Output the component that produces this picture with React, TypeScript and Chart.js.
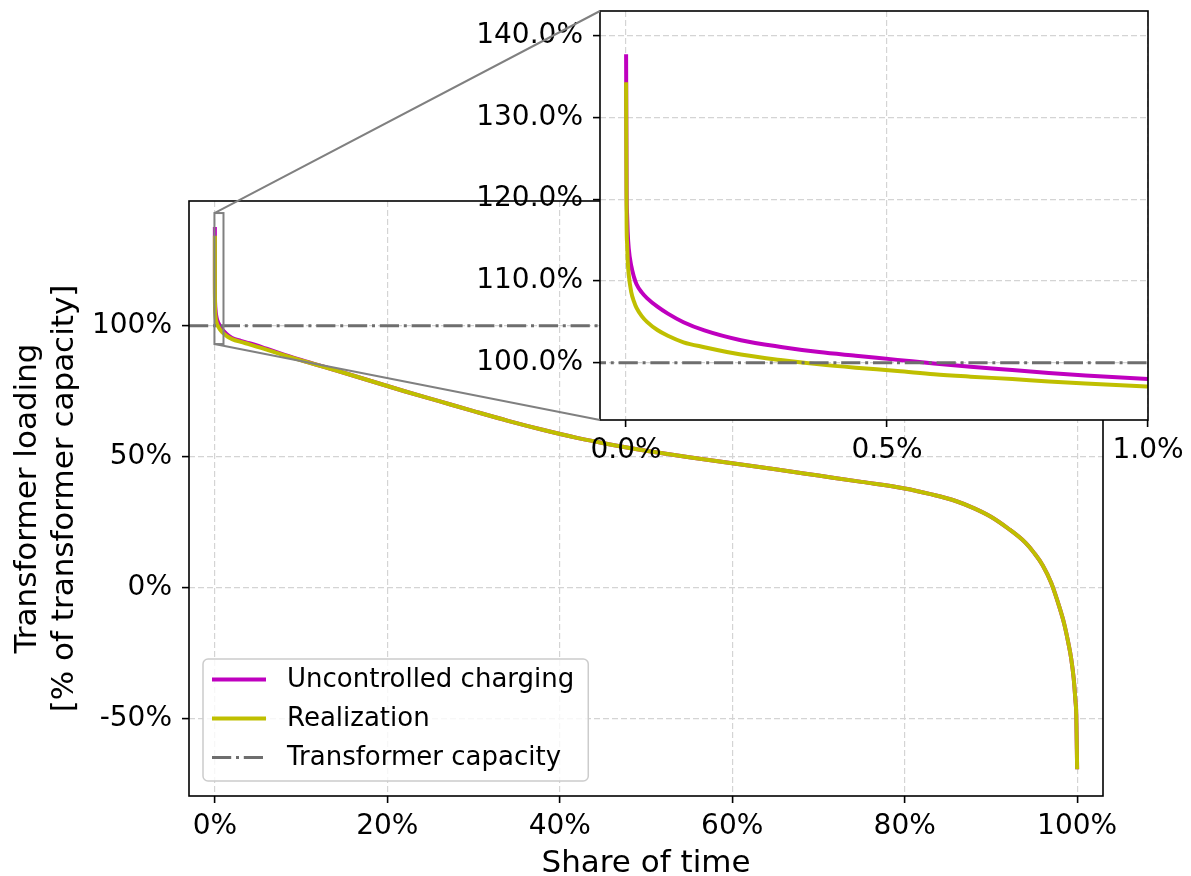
import React, { useEffect, useRef } from 'react';
import { Chart, registerables } from 'chart.js';

Chart.register(...registerables);

// ---------- data ----------
const shareOfTime = [
  0, 0.001, 0.002, 0.003, 0.005, 0.01, 0.015, 0.02, 0.03, 0.04,
  0.06, 0.08, 0.11, 0.15, 0.22, 0.3, 0.37, 0.44, 0.52, 0.59,
  0.66, 0.74, 0.81, 0.88, 1.0, 1.5, 2, 3, 4, 6,
  8, 10, 14, 18, 22, 26, 30, 34, 38, 42,
  46, 50, 55, 60, 65, 70, 75, 80, 83, 86,
  88, 90, 92, 94, 95, 96, 97, 98, 98.5, 99,
  99.3, 99.6, 99.8, 99.9, 100,
];
const uncontrolledCharging = [
  137.7, 121.0, 118.0, 116.0, 114.0, 111.8, 110.5, 109.6, 108.6, 107.9,
  106.85, 106.0, 104.95, 103.95, 102.75, 101.9, 101.3, 100.85, 100.35, 99.9,
  99.5, 99.1, 98.75, 98.45, 98.0, 96.4, 95.3, 94.2, 93.3, 91.2,
  89.0, 86.9, 83.0, 79.0, 75.0, 71.2, 67.4, 63.7, 60.3, 57.2,
  54.6, 52.3, 49.8, 47.5, 45.2, 42.8, 40.4, 37.9, 35.7, 33.0,
  30.4, 27.1, 22.6, 17.2, 13.3, 8.6, 1.8, -8.0, -13.8, -21.4,
  -26.8, -34.6, -43.0, -48.5, -69.3,
];
const realization = [
  134.3, 117.0, 114.5, 112.6, 110.8, 108.6, 107.5, 106.7, 105.7, 105.0,
  104.0, 103.3, 102.5, 101.9, 101.0, 100.3, 99.8, 99.4, 99.0, 98.6,
  98.3, 98.0, 97.7, 97.45, 97.1, 95.8, 94.9, 93.8, 92.9, 90.9,
  88.8, 86.8, 83.0, 79.0, 75.0, 71.2, 67.4, 63.7, 60.3, 57.2,
  54.6, 52.3, 49.8, 47.5, 45.2, 42.8, 40.4, 37.9, 35.7, 33.0,
  30.4, 27.1, 22.6, 17.2, 13.3, 8.6, 1.8, -8.0, -13.8, -21.4,
  -26.8, -34.6, -43.0, -48.5, -69.3,
];
const transformerCapacity = 100;
const capacityLineX = [-3, 103];

const mainXTicks = [0, 20, 40, 60, 80, 100];
const mainYTicks = [-50, 0, 50, 100];
const insetXTicks = [0, 0.5, 1.0];
const insetYTicks = [100, 110, 120, 130, 140];

const mainXLimits = [-3, 103];
const mainYLimits = [-79.5, 147.6];
const insetXLimits = [-0.05, 1.0];
const insetYLimits = [93, 143];

const seriesLabels = ['Uncontrolled charging', 'Realization', 'Transformer capacity'];
const xAxisTitle = 'Share of time';
const yAxisTitle = ['Transformer loading', '[% of transformer capacity]'];

// ---------- style ----------
const W = 1191;
const H = 876;
const FONT = "'DejaVu Sans', sans-serif";
const MAGENTA = '#bf00bf';
const OLIVE = '#bfbf00';
const DASH_GRAY = '#6e6e6e';
const GRID = '#d4d4d4';
const INSET_EDGE = '#808080';
const TICK_FONT = 28;

const makeDatasets = () => [
  {
    label: seriesLabels[0],
    data: shareOfTime.map((x, i) => ({ x, y: uncontrolledCharging[i] })),
    borderColor: MAGENTA,
    backgroundColor: MAGENTA,
    borderWidth: 4,
    pointRadius: 0,
    cubicInterpolationMode: 'monotone',
    order: 3,
  },
  {
    label: seriesLabels[1],
    data: shareOfTime.map((x, i) => ({ x, y: realization[i] })),
    borderColor: OLIVE,
    backgroundColor: OLIVE,
    borderWidth: 4,
    pointRadius: 0,
    cubicInterpolationMode: 'monotone',
    order: 2,
  },
  {
    label: seriesLabels[2],
    data: capacityLineX.map((x) => ({ x, y: transformerCapacity })),
    borderColor: DASH_GRAY,
    backgroundColor: DASH_GRAY,
    borderWidth: 3,
    borderDash: [19.2, 4.8, 3, 4.8],
    pointRadius: 0,
    order: 1,
  },
];

const gridOpts = {
  color: GRID,
  lineWidth: 1.2,
  tickColor: '#000',
  tickLength: 7,
  tickWidth: 1.6,
  tickBorderDash: [],
};

const tickFont = { family: FONT, size: TICK_FONT };

const noPad = (s: any) => {
  s.paddingTop = 0;
  s.paddingBottom = 0;
  s.paddingLeft = 0;
  s.paddingRight = 0;
};

const frame = (chart: any) => {
  const { ctx, chartArea: a } = chart;
  ctx.save();
  ctx.strokeStyle = '#000';
  ctx.lineWidth = 1.6;
  ctx.setLineDash([]);
  ctx.strokeRect(a.left, a.top, a.right - a.left, a.bottom - a.top);
  ctx.restore();
};

const mainPlugin = {
  id: 'mainDecor',
  afterDatasetsDraw(chart: any) {
    frame(chart);
    const { ctx, scales } = chart;
    const x1 = scales.x.getPixelForValue(insetXLimits[0]);
    const x2 = scales.x.getPixelForValue(insetXLimits[1]);
    const y1 = scales.y.getPixelForValue(insetYLimits[1]);
    const y2 = scales.y.getPixelForValue(insetYLimits[0]);
    ctx.save();
    ctx.strokeStyle = INSET_EDGE;
    ctx.lineWidth = 2;
    ctx.strokeRect(x1, y1, x2 - x1, y2 - y1);
    ctx.restore();
  },
  afterDraw(chart: any) {
    const { ctx, chartArea } = chart;
    const items = chart.data.datasets;
    ctx.save();
    ctx.font = `26px ${FONT}`;
    const rowH = 39;
    const textW = Math.max(...items.map((d: any) => ctx.measureText(d.label).width));
    const left = chartArea.left + 14;
    const bottom = chartArea.bottom - 15;
    const height = rowH * items.length + 5;
    const top = bottom - height;
    const width = 84 + textW + 14;
    ctx.beginPath();
    (ctx as any).roundRect(left, top, width, height, 5);
    ctx.fillStyle = 'rgba(255,255,255,0.8)';
    ctx.fill();
    ctx.strokeStyle = '#cccccc';
    ctx.lineWidth = 1.5;
    ctx.stroke();
    items.forEach((d: any, i: number) => {
      const y = top + 20.5 + i * rowH;
      ctx.beginPath();
      ctx.strokeStyle = d.borderColor;
      ctx.lineWidth = d.borderWidth;
      ctx.setLineDash(d.borderDash || []);
      ctx.moveTo(left + 9, y);
      ctx.lineTo(left + 63, y);
      ctx.stroke();
      ctx.setLineDash([]);
      ctx.fillStyle = '#000';
      ctx.textAlign = 'left';
      ctx.textBaseline = 'middle';
      ctx.fillText(d.label, left + 84, y + 1);
    });
    ctx.restore();
  },
};

const makeInsetPlugin = (mainChart: any) => ({
  id: 'insetDecor',
  beforeDraw(chart: any) {
    const { ctx, chartArea: a } = chart;
    ctx.save();
    ctx.fillStyle = '#fff';
    ctx.fillRect(a.left, a.top, a.right - a.left, a.bottom - a.top);
    ctx.restore();
  },
  afterDatasetsDraw(chart: any) {
    frame(chart);
    const { ctx, chartArea: a } = chart;
    const ms = mainChart.scales;
    const rx = ms.x.getPixelForValue(insetXLimits[0]);
    const rTop = ms.y.getPixelForValue(insetYLimits[1]);
    const rBot = ms.y.getPixelForValue(insetYLimits[0]);
    ctx.save();
    ctx.strokeStyle = INSET_EDGE;
    ctx.lineWidth = 2;
    ctx.beginPath();
    ctx.moveTo(rx, rTop);
    ctx.lineTo(a.left, a.top);
    ctx.moveTo(rx, rBot);
    ctx.lineTo(a.left, a.bottom);
    ctx.stroke();
    ctx.restore();
  },
});

export default function App() {
  const mainRef = useRef<HTMLCanvasElement>(null);
  const insetRef = useRef<HTMLCanvasElement>(null);

  useEffect(() => {
    const mainChart = new Chart(mainRef.current as HTMLCanvasElement, {
      type: 'line',
      data: { datasets: makeDatasets() as any },
      options: {
        animation: false,
        responsive: false,
        maintainAspectRatio: false,
        devicePixelRatio: 1,
        events: [],
        layout: { padding: { left: 0, top: 201, right: 88, bottom: 0 } },
        plugins: { legend: { display: false }, tooltip: { enabled: false } },
        scales: {
          x: {
            type: 'linear',
            min: mainXLimits[0],
            max: mainXLimits[1],
            afterBuildTicks: (s: any) => { s.ticks = mainXTicks.map((value) => ({ value })); },
            afterFit: (s: any) => { s.height = 80; noPad(s); },
            ticks: { callback: (v: any) => `${v}%`, font: tickFont, color: '#000', padding: 7, autoSkip: false, maxRotation: 0 },
            grid: gridOpts,
            border: { display: false, dash: [6, 3] },
            title: { display: true, text: xAxisTitle, color: '#000', font: { family: FONT, size: 31, lineHeight: 1.2 }, padding: { top: 0, bottom: -7 } },
          },
          y: {
            type: 'linear',
            min: mainYLimits[0],
            max: mainYLimits[1],
            afterBuildTicks: (s: any) => { s.ticks = mainYTicks.map((value) => ({ value })); },
            afterFit: (s: any) => { s.width = 189; noPad(s); },
            ticks: { callback: (v: any) => `${v}%`, font: tickFont, color: '#000', padding: 10, autoSkip: false },
            grid: gridOpts,
            border: { display: false, dash: [6, 3] },
            title: { display: true, text: yAxisTitle, color: '#000', font: { family: FONT, size: 31, lineHeight: 37 / 31 }, padding: { top: 9.5, bottom: 0 } },
          },
        },
      } as any,
      plugins: [mainPlugin],
    });

    const insetChart = new Chart(insetRef.current as HTMLCanvasElement, {
      type: 'line',
      data: { datasets: makeDatasets() as any },
      options: {
        animation: false,
        responsive: false,
        maintainAspectRatio: false,
        devicePixelRatio: 1,
        events: [],
        layout: { padding: { left: 470, top: 11, right: 43, bottom: 396 } },
        plugins: { legend: { display: false }, tooltip: { enabled: false } },
        scales: {
          x: {
            type: 'linear',
            min: insetXLimits[0],
            max: insetXLimits[1],
            afterBuildTicks: (s: any) => { s.ticks = insetXTicks.map((value) => ({ value })); },
            afterFit: (s: any) => { s.height = 60; noPad(s); },
            ticks: { callback: (v: any) => `${Number(v).toFixed(1)}%`, font: tickFont, color: '#000', padding: 7, autoSkip: false, maxRotation: 0 },
            grid: gridOpts,
            border: { display: false, dash: [6, 3] },
          },
          y: {
            type: 'linear',
            min: insetYLimits[0],
            max: insetYLimits[1],
            afterBuildTicks: (s: any) => { s.ticks = insetYTicks.map((value) => ({ value })); },
            afterFit: (s: any) => { s.width = 130; noPad(s); },
            ticks: { callback: (v: any) => `${Number(v).toFixed(1)}%`, font: tickFont, color: '#000', padding: 10, autoSkip: false },
            grid: gridOpts,
            border: { display: false, dash: [6, 3] },
          },
        },
      } as any,
      plugins: [makeInsetPlugin(mainChart)],
    });

    return () => {
      insetChart.destroy();
      mainChart.destroy();
    };
  }, []);

  return (
    <div style={{ position: 'fixed', left: 0, top: 0, width: W, height: H, background: '#fff', overflow: 'hidden' }}>
      <canvas ref={mainRef} width={W} height={H} style={{ position: 'absolute', left: 0, top: 0 }} />
      <canvas ref={insetRef} width={W} height={H} style={{ position: 'absolute', left: 0, top: 0 }} />
    </div>
  );
}
